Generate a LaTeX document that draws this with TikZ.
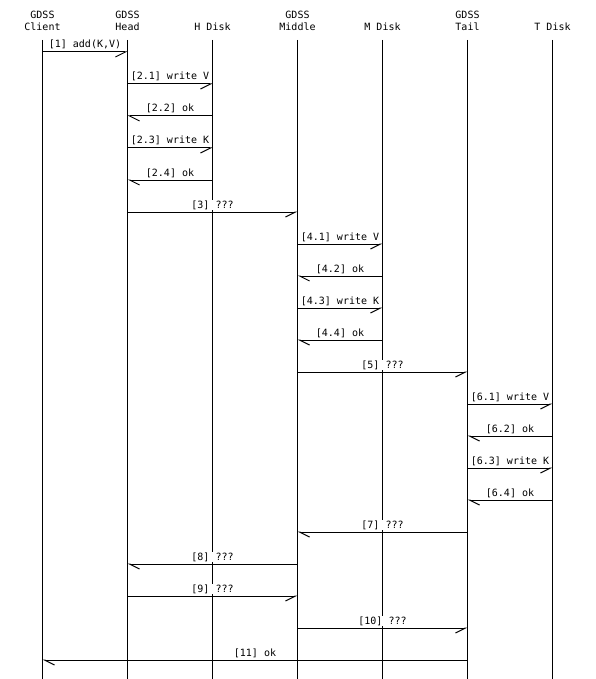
\documentclass[tikz,border=0pt]{standalone}
\usepackage{fontspec}
\setmonofont{DejaVu Sans Mono}
\usepackage{tikz}
\usetikzlibrary{arrows.meta}
\tikzset{
  actor/.style={anchor=south, align=center, inner sep=0pt, font=\ttfamily\fontsize{10}{12.3}\selectfont},
  lifeline/.style={draw=black, line width=1pt},
  msgtext/.style={anchor=base, yshift=4pt, fill=white, inner sep=0.5pt, font=\ttfamily\fontsize{10}{12}\selectfont},
  call/.style={draw=black, line width=1pt, -{Straight Barb[right, length=10pt, width=10pt]}},
  reply/.style={draw=black, line width=1pt, -{Straight Barb[left, length=10pt, width=10pt]}}
}

\begin{document}
\begin{tikzpicture}[x=1pt, y=-1pt]
  \useasboundingbox (0,0) rectangle (595,679);

  % entities
  \node[actor] (client) at (42.5,31)  {GDSS\\Client};
  \node[actor] (head)   at (127.5,31) {GDSS\\Head};
  \node[actor] (hdisk)  at (212.5,31) {H Disk};
  \node[actor] (middle) at (297.5,31) {GDSS\\Middle};
  \node[actor] (mdisk)  at (382.5,31) {M Disk};
  \node[actor] (tail)   at (467.5,31) {GDSS\\Tail};
  \node[actor] (tdisk)  at (552.5,31) {T Disk};

  \foreach \n in {client,head,hdisk,middle,mdisk,tail,tdisk}
    \draw[lifeline] (\n |- 0,40) -- (\n |- 0,679);

  % messages
  \draw[call]  (client |- 0,52)  -- node[msgtext] {[1] add(K,V)}  (head |- 0,52);
  \draw[call]  (head |- 0,84)    -- node[msgtext] {[2.1] write V} (hdisk |- 0,84);
  \draw[reply] (hdisk |- 0,116)  -- node[msgtext] {[2.2] ok}      (head |- 0,116);
  \draw[call]  (head |- 0,148)   -- node[msgtext] {[2.3] write K} (hdisk |- 0,148);
  \draw[reply] (hdisk |- 0,180)  -- node[msgtext] {[2.4] ok}      (head |- 0,180);
  \draw[call]  (head |- 0,212)   -- node[msgtext] {[3] ???}       (middle |- 0,212);
  \draw[call]  (middle |- 0,244) -- node[msgtext] {[4.1] write V} (mdisk |- 0,244);
  \draw[reply] (mdisk |- 0,276)  -- node[msgtext] {[4.2] ok}      (middle |- 0,276);
  \draw[call]  (middle |- 0,308) -- node[msgtext] {[4.3] write K} (mdisk |- 0,308);
  \draw[reply] (mdisk |- 0,340)  -- node[msgtext] {[4.4] ok}      (middle |- 0,340);
  \draw[call]  (middle |- 0,372) -- node[msgtext] {[5] ???}       (tail |- 0,372);
  \draw[call]  (tail |- 0,404)   -- node[msgtext] {[6.1] write V} (tdisk |- 0,404);
  \draw[reply] (tdisk |- 0,436)  -- node[msgtext] {[6.2] ok}      (tail |- 0,436);
  \draw[call]  (tail |- 0,468)   -- node[msgtext] {[6.3] write K} (tdisk |- 0,468);
  \draw[reply] (tdisk |- 0,500)  -- node[msgtext] {[6.4] ok}      (tail |- 0,500);
  \draw[reply] (tail |- 0,532)   -- node[msgtext] {[7] ???}       (middle |- 0,532);
  \draw[reply] (middle |- 0,564) -- node[msgtext] {[8] ???}       (head |- 0,564);
  \draw[call]  (head |- 0,596)   -- node[msgtext] {[9] ???}       (middle |- 0,596);
  \draw[call]  (middle |- 0,628) -- node[msgtext] {[10] ???}      (tail |- 0,628);
  \draw[reply] (tail |- 0,660)   -- node[msgtext] {[11] ok}       (client |- 0,660);
\end{tikzpicture}
\end{document}
